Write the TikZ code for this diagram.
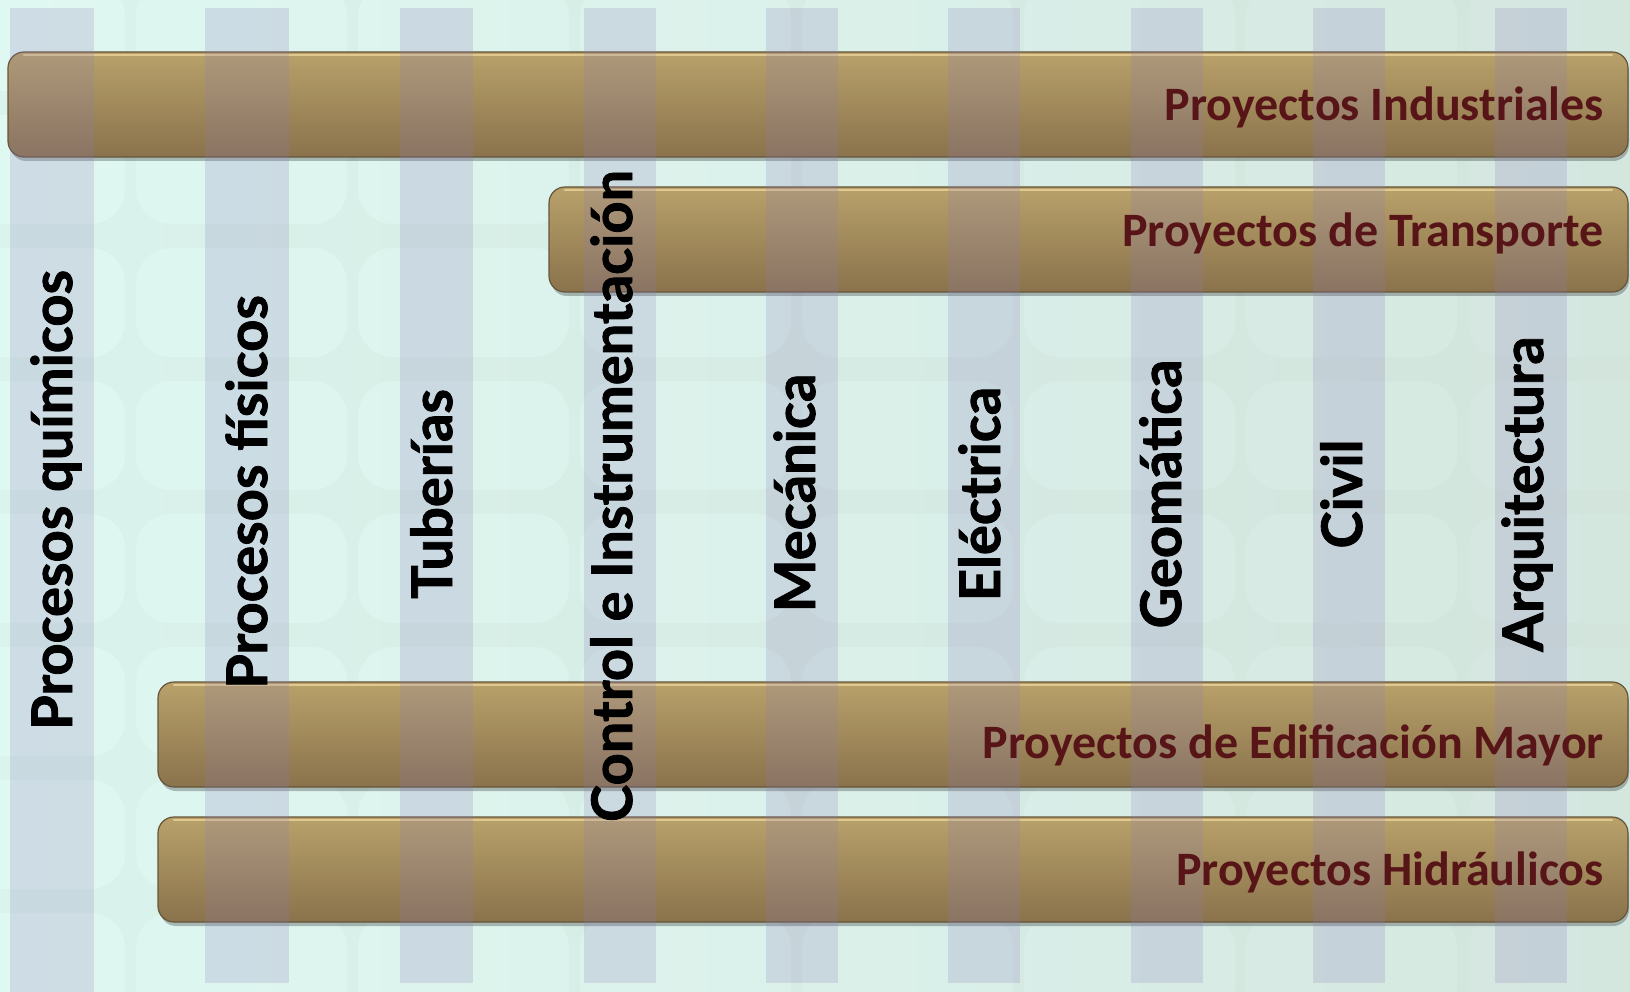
\documentclass[tikz,border=0pt]{standalone}
\usepackage{fontspec}
\setmainfont{Carlito}
\newfontfamily\gillfont{Lato}[BoldFeatures={FakeBold=1.5}]
\definecolor{bgL}{HTML}{DAF3EC}
\definecolor{bgR}{HTML}{D2E4DC}
\definecolor{cellc}{HTML}{E6FDF8}
\definecolor{barT}{HTML}{B8A16A}
\definecolor{barM}{HTML}{A78E5C}
\definecolor{barB}{HTML}{8A724C}
\definecolor{barline}{HTML}{66553A}
\definecolor{barhi}{HTML}{EBD398}
\definecolor{stripc}{HTML}{8C7CB8}
\definecolor{labc}{HTML}{581518}
\tikzset{
  barbox/.style={rounded corners=16pt, draw=barline, line width=1.2pt, top color=barT, middle color=barM, bottom color=barB},
  barshadow/.style={fill=black, opacity=0.25, rounded corners=16pt},
  stripbox/.style={fill=stripc, opacity=0.21},
  vt/.style={font=\gillfont\bfseries\fontsize{56}{56}\selectfont, rotate=90, anchor=base, inner sep=0pt, text=black},
  lab/.style={font=\bfseries\fontsize{48}{48}\selectfont, text=labc, anchor=base east, inner sep=0pt}
}
\begin{document}
\begin{tikzpicture}[x=1pt,y=-1pt]
\useasboundingbox (0,0) rectangle (1630,992);
% background
\shade[left color=bgL, right color=bgR] (0,0) rectangle (1630,992);
\begin{scope}
\clip (0,0) rectangle (1630,992);
\foreach \i in {-1,...,7}{
  \pgfmathsetmacro\op{max(0.45-0.055*\i,0.08)}
  \foreach \j in {-2,...,5}{
    \fill[cellc, opacity=\op, rounded corners=35pt] ({136+222*\i},{248+133*\j}) rectangle +(211,109);
  }
}
\end{scope}
% bars
\foreach \xa/\ya/\xb/\yb in {8/52/1628/157, 549/187/1628/292, 158/682/1628/787, 158/817/1628/922}{
  \fill[barshadow] (\xa+2,\ya+4) rectangle (\xb+1,\yb+4);
  \path[barbox] (\xa,\ya) rectangle (\xb,\yb);
  \draw[barhi, line width=2.5pt, opacity=0.8, line cap=round] (\xa+16,\ya+3) -- (\xb-16,\ya+3);
}
% strips
\fill[stripbox] (10,8) rectangle (94,992);
\fill[stripbox] (205,8) rectangle (289,983);
\fill[stripbox] (400,8) rectangle (473,983);
\fill[stripbox] (584,8) rectangle (656,983);
\fill[stripbox] (766,8) rectangle (838,983);
\fill[stripbox] (948,8) rectangle (1020,983);
\fill[stripbox] (1131,8) rectangle (1203,983);
\fill[stripbox] (1313,8) rectangle (1385,983);
\fill[stripbox] (1495,8) rectangle (1567,983);
% vertical labels
\node[vt] (c1) at (72,500) {Procesos químicos};
\node[vt] (c2) at (267,492) {Procesos físicos};
\node[vt] (c3) at (452,494) {Tuberías};
\node[vt] (c4) at (632,496) {Control e Instrumentación};
\node[vt] (c5) at (815,493) {Mecánica};
\node[vt] (c6) at (1000,494) {Eléctrica};
\node[vt] (c7) at (1181,494) {Geomática};
\node[vt] (c8) at (1362,494) {Civil};
\node[vt] (c9) at (1543,494) {Arquitectura};
% bar labels
\node[lab] (pi) at (1604,121) {Proyectos Industriales};
\node[lab] (pt) at (1604,247) {Proyectos de Transporte};
\node[lab] (pe) at (1604,758) {Proyectos de Edificación Mayor};
\node[lab] (ph) at (1604,885) {Proyectos Hidráulicos};
\end{tikzpicture}
\end{document}
